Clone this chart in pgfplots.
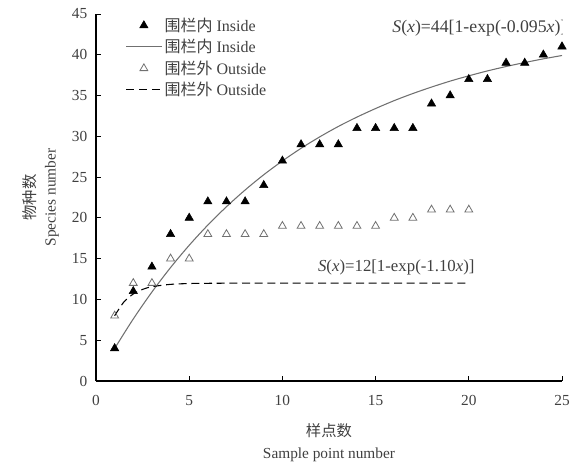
\documentclass[border=0pt]{standalone}
\usepackage{fontspec}
\setmainfont{Liberation Serif}
\newfontfamily\cjk{Noto Sans CJK SC}
\usepackage{pgfplots}
\pgfplotsset{compat=1.18}
\definecolor{txt}{HTML}{404040}
\definecolor{fitgray}{HTML}{707070}
\begin{document}
\begin{tikzpicture}
\begin{axis}[
  scale only axis,
  width=349.5pt, height=275.25pt,
  xmin=0, xmax=25, ymin=0, ymax=45,
  xtick={0,5,...,25}, ytick={0,5,...,45},
  axis x line*=bottom, axis y line*=left,
  tick align=inside, major tick length=4pt,
  every tick/.style={black, line width=0.6pt},
  axis line style={black, line width=0.8pt},
  /pgf/number format/assume math mode=true,
  tick label style={font=\fontsize{11.5}{13}\selectfont, text=txt},
  xticklabel style={yshift=-7pt},
  yticklabel style={xshift=-3pt},
  xlabel={{\cjk 样点数}\\Sample point number},
  xlabel style={font=\fontsize{11.5}{16.5}\selectfont, text=txt, align=center, yshift=-7pt},
  ylabel={{\cjk 物种数}\\Species number},
  ylabel style={font=\fontsize{11.5}{15}\selectfont, text=txt, align=center, yshift=3pt},
  legend style={draw=none, fill=none, at={(0.055,1.005)}, anchor=north west,
    font=\fontsize{12}{13.5}\selectfont, text=txt, row sep=0.5pt},
  legend cell align=left,
  legend image code/.code={\draw[mark repeat=2, mark phase=2, #1]
    plot coordinates {(0cm,0cm) (0.46cm,0cm) (0.92cm,0cm)};},
]
% inside observed
\addplot[only marks, mark=triangle*, mark size=3.6pt, black] coordinates {
  (1,4)(2,11)(3,14)(4,18)(5,20)(6,22)(7,22)(8,22)(9,24)(10,27)
  (11,29)(12,29)(13,29)(14,31)(15,31)(16,31)(17,31)(18,34)(19,35)(20,37)
  (21,37)(22,39)(23,39)(24,40)(25,41)};
\addlegendentry{{\cjk 围栏内} Inside}
% inside fitted curve
\addplot[fitgray, line width=0.8pt, smooth, mark=none] coordinates {
  (1,3.99)(2,7.61)(3,10.91)(4,13.91)(5,16.64)(6,19.12)(7,21.37)(8,23.42)
  (9,25.29)(10,26.98)(11,28.53)(12,29.93)(13,31.21)(14,32.36)(15,33.41)
  (16,34.38)(17,35.25)(18,36.04)(19,36.77)(20,37.42)(21,38.02)(22,38.56)
  (23,39.05)(24,39.50)(25,39.91)};
\addlegendentry{{\cjk 围栏内} Inside}
% outside observed
\addplot[only marks, mark=triangle, mark size=3.4pt, fitgray, mark options={line width=0.6pt}] coordinates {
  (1,8)(2,12)(3,12)(4,15)(5,15)(6,18)(7,18)(8,18)(9,18)(10,19)
  (11,19)(12,19)(13,19)(14,19)(15,19)(16,20)(17,20)(18,21)(19,21)(20,21)};
\addlegendentry{{\cjk 围栏外} Outside}
% outside fitted curve
\addplot[black, line width=0.8pt, dash pattern=on 6pt off 3.5pt, smooth, mark=none] coordinates {
  (1,8.00)(1.5,9.70)(2,10.67)(2.5,11.23)(3,11.56)(4,11.85)(5,11.95)(6,11.98)
  (8,12)(10,12)(12,12)(14,12)(16,12)(18,12)(20,12)};
\addlegendentry{{\cjk 围栏外} Outside}
\node[anchor=south east, font=\fontsize{13.3}{15}\selectfont, text=txt, inner sep=0pt]
  at (axis cs:25.25,42.2) {\textit{S}(\textit{x})=44[1-exp(-0.095\textit{x})]};
\node[anchor=south west, font=\fontsize{12.6}{14}\selectfont, text=txt, inner sep=0pt]
  at (axis cs:11.9,13.0) {\textit{S}(\textit{x})=12[1-exp(-1.10\textit{x})]};
\end{axis}
\pgfresetboundingbox
\path[use as bounding box] (current axis.south west) ++(-72pt,-61.5pt) rectangle
  ([shift={(12.75pt,10.5pt)}]current axis.north east);
\end{tikzpicture}
\end{document}
